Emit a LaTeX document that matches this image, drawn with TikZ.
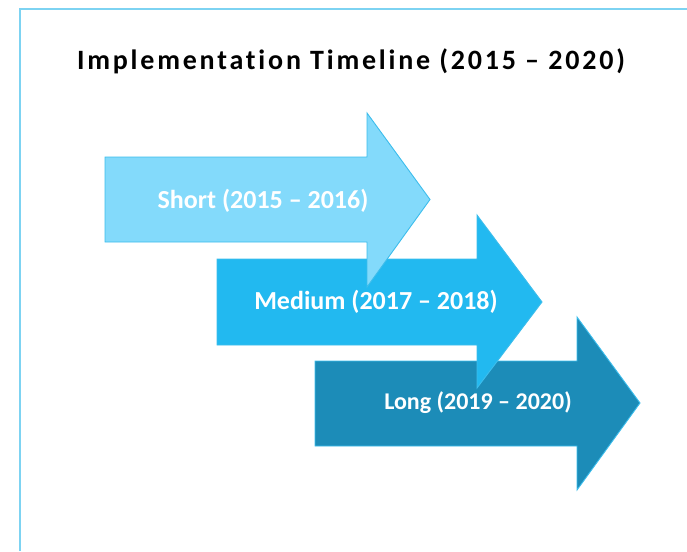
\documentclass[tikz,border=0pt]{standalone}
\usepackage{fontspec}
\setmainfont{Carlito}
\newfontfamily\titlefont[LetterSpace=10,Ligatures=NoCommon]{Carlito}
\definecolor{framecol}{HTML}{7DD3F2}
\definecolor{shortfill}{HTML}{83DAFB}
\definecolor{mediumfill}{HTML}{22B9F0}
\definecolor{longfill}{HTML}{1C8CB8}
\definecolor{edgecol}{HTML}{3CBDEC}
\tikzset{
  phase/.style={draw=edgecol, line width=0.9pt, line join=miter},
  phaselabel/.style={text=white, font=\bfseries\fontsize{26}{30}\selectfont, anchor=base, inner sep=0pt},
  frameline/.style={draw=framecol, line width=1.4pt}
}
\begin{document}
\begin{tikzpicture}[x=1pt,y=-1pt]
  \useasboundingbox (0,0) rectangle (687,551);
  % page frame
  \draw[frameline] (20,551) -- (20,9) -- (687,9);
  % title
  \node[anchor=base, inner sep=0pt, font=\titlefont\bfseries\fontsize{28}{32}\selectfont] (title) at (351,69) {Implementation Timeline (2015 \textendash{} 2020)};
  % phase arrows, back to front
  \path[phase, fill=longfill]
    (315,361) -- (577,361) -- (577,317) -- (640,403) -- (577,490) -- (577,446) -- (315,446) -- cycle;
  \path[phase, fill=mediumfill]
    (217,259) -- (477,259) -- (477,215) -- (542,302) -- (477,388) -- (477,345) -- (217,345) -- cycle;
  \path[phase, fill=shortfill]
    (105,157) -- (367,157) -- (367,113) -- (430,199.5) -- (367,287) -- (367,242) -- (105,242) -- cycle;
  % phase labels
  \node[phaselabel] (short) at (263,208) {Short (2015 \textendash{} 2016)};
  \node[phaselabel] (medium) at (376,309) {Medium (2017 \textendash{} 2018)};
  \node[phaselabel, font=\bfseries\fontsize{24}{28}\selectfont] (long) at (478,409.5) {Long (2019 \textendash{} 2020)};
\end{tikzpicture}
\end{document}
